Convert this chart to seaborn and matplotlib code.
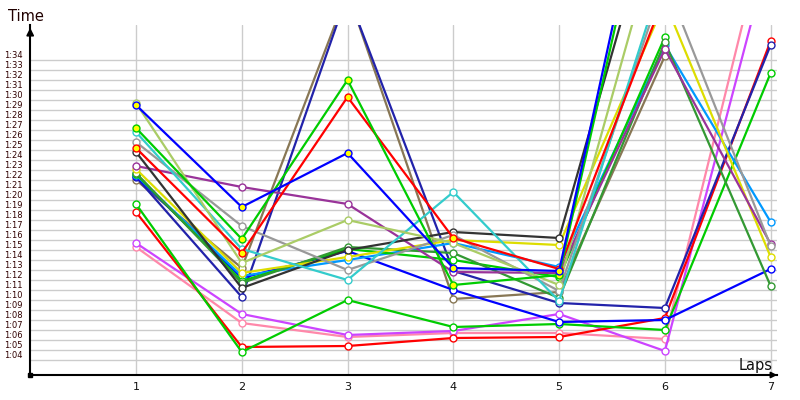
import matplotlib
matplotlib.use("Agg")
import matplotlib.pyplot as plt
import seaborn as sns

# lap times in seconds (1:29.5 -> 89.5); values above 1:37 are off the chart
laps = [1, 2, 3, 4, 5, 6, 7]
blue1 = [89.5, 79.3, 84.7, 73.2, 72.9, 121.3]
yellowgreen = [89.7, 73.7, 78.0, 75.7, 71.5, 109.2]
green1 = [87.2, 76.1, 92.0, 71.5, 72.5, 119.3]
cyan = [86.8, 75.1, 72.0, 80.8, 69.9, 103.1]
gray = [85.8, 77.4, 73.0, 76.5, 70.9, 102.0, 75.4]
red1 = [85.2, 74.7, 90.3, 76.2, 73.1, 100.5]
darkgray = [84.8, 71.2, 75.0, 76.8, 76.2, 113.1]
purple = [83.4, 81.3, 79.6, 72.8, 72.7, 95.1, 75.6]
yellow = [83.1, 72.7, 74.3, 76.0, 75.5, 99.8, 74.3]
darkgreen = [82.7, 71.7, 75.3, 74.7, 70.2, 95.8, 71.4]
green3 = [82.6, 71.9, 75.1, 74.0, 72.3, 96.3]
lightblue = [82.5, 72.4, 74.0, 75.7, 73.3, 95.5, 77.8]
blue2 = [82.4, 72.2, 74.9, 71.0, 67.8, 68.0, 73.1]
navy = [82.3, 70.3, 100.6, 72.9, 69.7, 69.2, 95.5]
olive = [82.0, 73.2, 100.8, 70.1, 70.8, 94.4]
green2 = [79.6, 64.8, 70.0, 67.3, 67.6, 67.0, 92.7]
red2 = [78.8, 65.3, 65.4, 66.2, 66.3, 68.2, 95.9]
magenta = [75.7, 68.6, 66.5, 66.9, 68.6, 64.9, 105.1]
pink = [75.3, 67.7, 66.3, 66.7, 66.7, 66.1, 109.0]

tick_secs = list(range(64, 95))
tick_labels = ["%d:%02d" % (s // 60, s % 60) for s in tick_secs]

series = [
    (pink, "#ff88aa", False), (magenta, "#cc44ff", False),
    (red2, "#ff0000", False), (green2, "#00cc00", False),
    (olive, "#887755", False), (navy, "#2222aa", False),
    (blue2, "#0000ff", False), (lightblue, "#0099ff", False),
    (green3, "#00cc00", False), (darkgreen, "#339933", False),
    (yellow, "#dddd00", False), (purple, "#993399", False),
    (darkgray, "#333333", False), (gray, "#999999", False),
    (cyan, "#33cccc", False), (yellowgreen, "#aacc66", False),
    (red1, "#ff0000", True), (green1, "#00cc00", True),
    (blue1, "#0000ff", True),
]

sns.set_style("white")
fig = plt.figure(figsize=(8, 4), dpi=100)
ax = fig.add_axes([0.03775, 0.0625, 0.9335, 0.875])

# grid
for s in tick_secs:
    ax.axhline(s, color="#cccccc", lw=1, zorder=0)
for l in laps:
    ax.axvline(l, color="#cccccc", lw=1, zorder=0)

for vals, col, pit in series:
    sns.lineplot(x=laps[:len(vals)], y=vals, color=col, lw=1.6, marker="o",
                 markersize=5, markerfacecolor="#ffff00" if pit else "white",
                 markeredgewidth=1.0, estimator=None, sort=False, ax=ax)
    ax.lines[-1].set_markeredgecolor(col)

ax.set_xlim(0, 7.06)
ax.set_ylim(62.5, 97.5)
ax.set_xlabel("")
ax.set_ylabel("")

ax.set_xticks(laps)
ax.set_xticklabels([str(l) for l in laps], fontsize=8, color="#101010")
ax.tick_params(axis="x", length=0, pad=5)

ax.set_yticks([s + 0.5 for s in tick_secs])
ax.set_yticklabels(tick_labels, fontsize=6, color="#300000")
for lab in ax.get_yticklabels():
    lab.set_horizontalalignment("left")
ax.tick_params(axis="y", length=0, pad=19)

for side in ["top", "right"]:
    ax.spines[side].set_visible(False)
for side in ["left", "bottom"]:
    ax.spines[side].set_color("black")
    ax.spines[side].set_linewidth(1.5)

# axis arrows
ax.annotate("", xy=(0, 1.0), xytext=(0, 0.96), xycoords="axes fraction",
            arrowprops=dict(arrowstyle="-|>", color="black", lw=1.2, mutation_scale=11),
            annotation_clip=False)
ax.annotate("", xy=(1.004, 0), xytext=(0.98, 0), xycoords="axes fraction",
            arrowprops=dict(arrowstyle="-|>", color="black", lw=1.2, mutation_scale=9),
            annotation_clip=False)
ax.plot([0], [62.5], marker="s", color="black", markersize=3, clip_on=False, zorder=5)

fig.text(8 / 800, 1 - 21 / 400, "Time", fontsize=10.5, color="#200000", va="baseline")
fig.text(773 / 800, 1 - 370 / 400, "Laps", fontsize=10.5, color="#101010",
         va="baseline", ha="right")

fig.savefig("out.png", dpi=100)
